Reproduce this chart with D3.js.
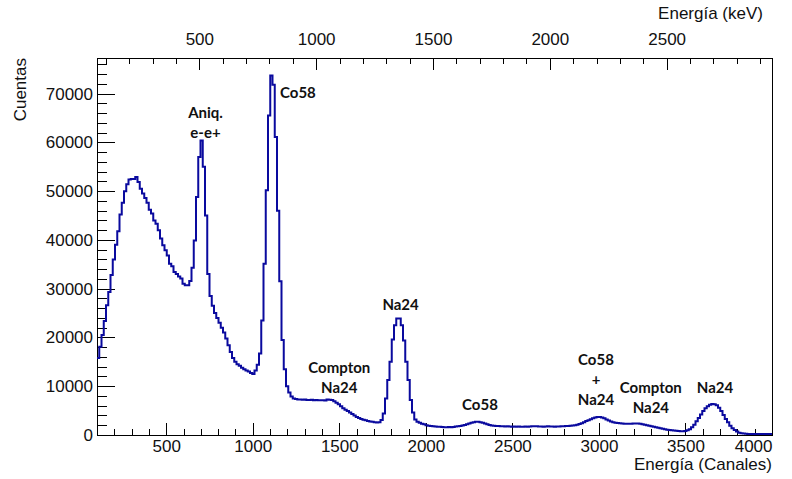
<!DOCTYPE html>
<html>
<head>
<meta charset="utf-8">
<script src="https://cdn.jsdelivr.net/npm/d3@7"></script>
<style>
  html, body { margin: 0; padding: 0; background: #fff; }
  svg { display: block; }
  .tick text { font-family: "Liberation Sans", Arial, sans-serif; font-size: 17px; fill: #111; }
  .title { font-family: "Liberation Sans", Arial, sans-serif; font-size: 17px; fill: #111; }
  .note { font-family: Lato, "Open Sans", sans-serif; font-weight: 700; font-size: 15px; fill: #111; }
</style>
</head>
<body>
<svg id="chart" width="792" height="479"></svg>
<script>
// Gamma spectrum: counts per 13-channel bin, channels 100 – 4000
const channelStart = 100;
const channelEnd = 4000;
const binWidth = 13;

const counts = [
  15800, 18100, 20500, 23400, 26600, 29300, 32800, 36000, 39000, 41800,
  45200, 47600, 50000, 51400, 52400, 52500, 52500, 52900, 51900, 50500,
  49500, 48600, 47600, 46200, 45400, 44000, 43300, 42000, 40300, 38900,
  37900, 36800, 35100, 34600, 33400, 33000, 32500, 32100, 31000, 30700,
  30700, 31600, 34300, 39900, 48800, 57000, 60400, 55000, 45000, 33000,
  28500, 26500, 25000, 24000, 23000, 22000, 21000, 19800, 18400, 17000,
  15800, 15000, 14500, 14200, 13800, 13500, 13200, 13000, 12700, 12500,
  13200, 14400, 16700, 23500, 35100, 50200, 65500, 73700, 71800, 61100,
  46000, 31500, 19500, 13500, 10000, 8700, 7900, 7500, 7400, 7300,
  7300, 7250, 7300, 7200, 7200, 7250, 7150, 7200, 7100, 7150,
  7100, 7050, 7300, 7250, 7200, 6900, 6600, 6300, 5900, 5500,
  5200, 4900, 4600, 4300, 4000, 3700, 3500, 3300, 3150, 3000,
  2850, 2750, 2700, 2600, 2550, 2600, 3100, 4400, 7500, 11300,
  15000, 19600, 22500, 23900, 23900, 22500, 19400, 15000, 11300, 7200,
  4600, 3200, 2700, 2500, 2300, 2200, 2000, 1900, 1850, 1800,
  1750, 1700, 1700, 1650, 1600, 1600, 1620, 1600, 1650, 1750,
  1800, 1850, 1950, 2050, 2200, 2350, 2500, 2600, 2700, 2700,
  2600, 2500, 2350, 2200, 2050, 1950, 1900, 1850, 1850, 1800,
  1800, 1750, 1800, 1750, 1700, 1720, 1700, 1750, 1700, 1680,
  1720, 1700, 1750, 1800, 1780, 1800, 1750, 1720, 1700, 1750,
  1780, 1750, 1720, 1700, 1720, 1750, 1780, 1800, 1850, 1850,
  1900, 1950, 2000, 2100, 2250, 2400, 2600, 2850, 3050, 3250,
  3450, 3600, 3700, 3700, 3600, 3450, 3200, 2950, 2750, 2600,
  2500, 2450, 2400, 2350, 2300, 2300, 2300, 2300, 2350, 2350,
  2350, 2300, 2200, 2100, 2000, 1900, 1800, 1700, 1600, 1500,
  1400, 1300, 1200, 1100, 1000, 950, 900, 850, 800, 750,
  750, 800, 950, 1200, 1600, 2100, 2800, 3500, 4200, 4900,
  5500, 5900, 6200, 6350, 6300, 6100, 5600, 4900, 4100, 3300,
  2600, 1900, 1400, 1000, 700, 450, 350, 300, 250, 220,
  200, 210, 200, 190, 200, 180, 200, 190, 180, 200
];

// Axis ranges and tick values
const countMax = 77300;
const keVRange = [62, 2951];
const channelMajor = [500, 1000, 1500, 2000, 2500, 3000, 3500, 4000];
const channelMinor = d3.range(200, 4000, 100);
const countMajor = [0, 10000, 20000, 30000, 40000, 50000, 60000, 70000];
const countMinor = d3.range(2000, 77000, 2000);
const keVMajor = [500, 1000, 1500, 2000, 2500];
const keVMinor = d3.range(100, 2951, 100);

// Peak annotations anchored in data coordinates (channel, counts)
const annotations = [
  { lines: ["Aniq.", "e-e+"], channel: 727, count: 65100 },
  { lines: ["Co58"], channel: 1261, count: 69000 },
  { lines: ["Compton", "Na24"], channel: 1500, count: 12700 },
  { lines: ["Na24"], channel: 1854, count: 25600 },
  { lines: ["Co58"], channel: 2313, count: 5100 },
  { lines: ["Co58", "+", "Na24"], channel: 2983, count: 14300 },
  { lines: ["Compton", "Na24"], channel: 3300, count: 8600 },
  { lines: ["Na24"], channel: 3671, count: 8600 }
];

const frame = { left: 97, right: 772, top: 58, bottom: 435 };
const svg = d3.select("#chart");

const x = d3.scaleLinear().domain([channelStart, channelEnd]).range([frame.left, frame.right]);
const xKeV = d3.scaleLinear().domain(keVRange).range([frame.left, frame.right]);
const y = d3.scaleLinear().domain([0, countMax]).range([frame.bottom, frame.top]);

svg.append("rect").attr("width", 792).attr("height", 479).attr("fill", "#fff");

function styleAxis(g) {
  g.select(".domain").remove();
  g.selectAll(".tick line").attr("stroke", "#000").attr("shape-rendering", "crispEdges");
}

// Bottom axis (channels), ticks pointing inward
svg.append("g").attr("transform", `translate(0,${frame.bottom})`)
  .call(d3.axisBottom(x).tickValues(channelMinor.filter(v => v % 500 !== 0)).tickSize(-6).tickFormat(""))
  .call(styleAxis);
const bottomAxis = svg.append("g").attr("transform", `translate(0,${frame.bottom})`)
  .call(d3.axisBottom(x).tickValues(channelMajor).tickSize(-12).tickPadding(5).tickFormat(d3.format("d")))
  .call(styleAxis);
bottomAxis.selectAll(".tick").filter(d => d === channelEnd).select("text")
  .attr("text-anchor", "end").attr("x", 0);

// Left axis (counts)
svg.append("g").attr("transform", `translate(${frame.left},0)`)
  .call(d3.axisLeft(y).tickValues(countMinor.filter(v => v % 10000 !== 0)).tickSize(-10).tickFormat(""))
  .call(styleAxis);
svg.append("g").attr("transform", `translate(${frame.left},0)`)
  .call(d3.axisLeft(y).tickValues(countMajor).tickSize(-18).tickPadding(4).tickFormat(d3.format("d")))
  .call(styleAxis);

// Top axis (energy in keV)
svg.append("g").attr("transform", `translate(0,${frame.top})`)
  .call(d3.axisTop(xKeV).tickValues(keVMinor.filter(v => v % 500 !== 0)).tickSize(-6).tickFormat(""))
  .call(styleAxis);
svg.append("g").attr("transform", `translate(0,${frame.top})`)
  .call(d3.axisTop(xKeV).tickValues(keVMajor).tickSize(-12).tickPadding(13).tickFormat(d3.format("d")))
  .call(styleAxis);

// Frame
svg.append("rect")
  .attr("x", frame.left + 0.5).attr("y", frame.top + 0.5)
  .attr("width", frame.right - frame.left).attr("height", frame.bottom - frame.top)
  .attr("fill", "none").attr("stroke", "#000").attr("stroke-width", 1);

// Histogram outline (step line)
const steps = counts.map((c, i) => [channelStart + i * binWidth, c]);
steps.push([channelStart + counts.length * binWidth, counts[counts.length - 1]]);
const line = d3.line().x(d => x(Math.min(d[0], channelEnd))).y(d => y(d[1])).curve(d3.curveStepAfter);
svg.append("path")
  .datum(steps)
  .attr("d", line)
  .attr("fill", "none")
  .attr("stroke", "#0a0a9e")
  .attr("stroke-width", 2)
  .attr("stroke-linejoin", "miter");

// Axis titles
svg.append("text").attr("class", "title")
  .attr("x", frame.right).attr("y", 470).attr("text-anchor", "end")
  .text("Energía (Canales)");
svg.append("text").attr("class", "title")
  .attr("x", 763).attr("y", 19).attr("text-anchor", "end")
  .text("Energía (keV)");
svg.append("text").attr("class", "title")
  .attr("transform", `translate(26,${frame.top}) rotate(-90)`)
  .attr("text-anchor", "end")
  .text("Cuentas");

// Peak labels
annotations.forEach(a => {
  const t = svg.append("text").attr("class", "note")
    .attr("text-anchor", "middle");
  a.lines.forEach((s, i) => {
    t.append("tspan")
      .attr("x", x(a.channel))
      .attr("y", y(a.count) + i * 20)
      .text(s);
  });
});
</script>
</body>
</html>
